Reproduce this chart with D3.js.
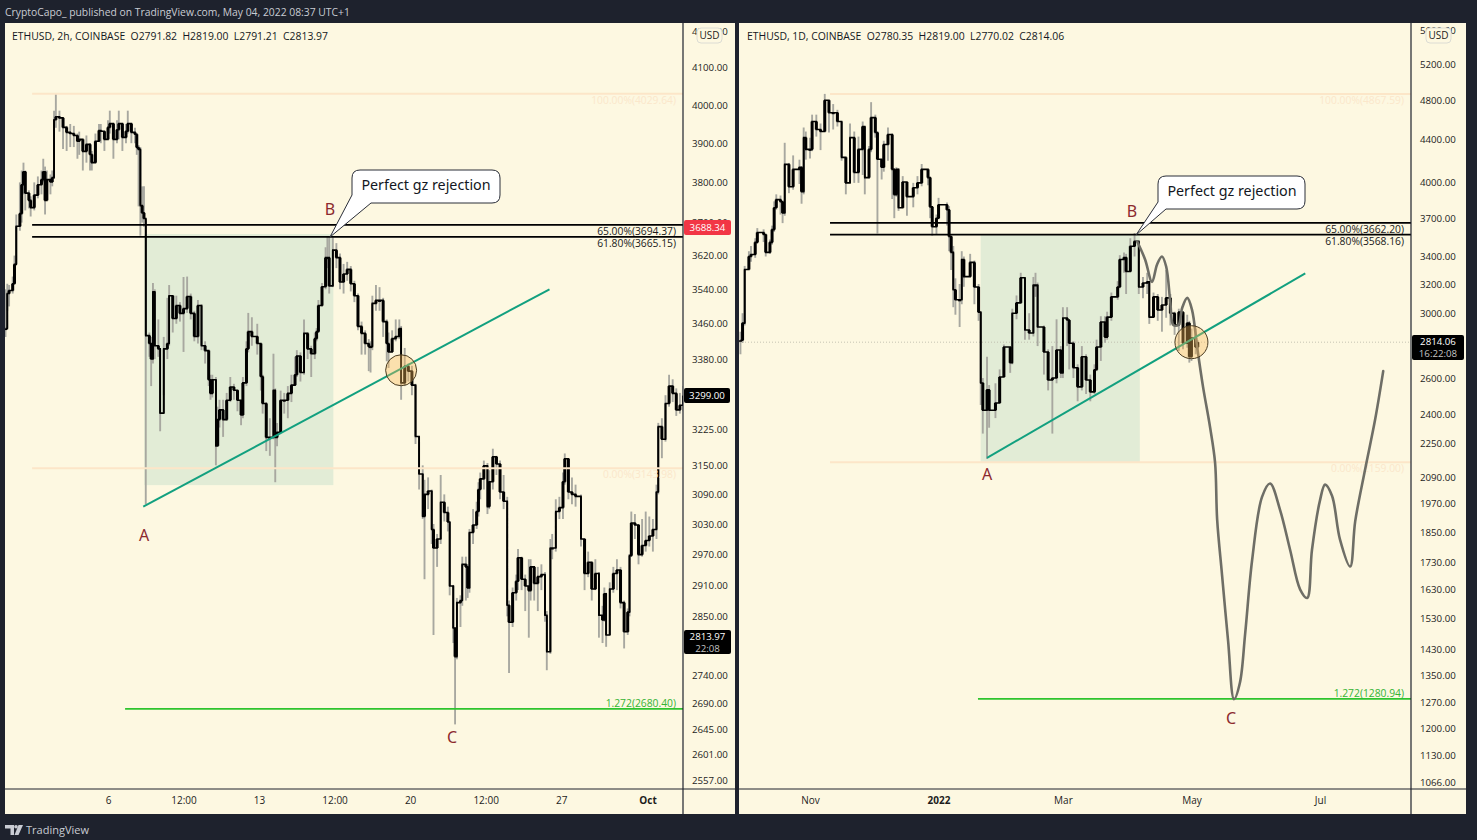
<!DOCTYPE html>
<html><head><meta charset="utf-8">
<script src="https://cdn.jsdelivr.net/npm/d3@7"></script>
<style>
html,body{margin:0;padding:0;background:#1e222d;overflow:hidden}
svg{display:block}
text{font-family:"Open Sans","Noto Sans",sans-serif}
</style></head><body>
<svg id="c" width="1477" height="840"></svg>
<script>
// ---------- LEFT CHART: ETHUSD 2h (bar = number of 2h bars since 1 Sep 2021) ----------
const leftBars = [
3,4,5,7,8,9,11,12,13,14,
16,17,19,21,23,24,25,26,28,29,
30,31,33,35,37,39,41,43,44,46,
48,50,51,53,55,56,58,60,61,63,
65,66,68,70,71,73,75,76,77,78,
79,80,81,83,84,85,86,88,89,91,
93,94,96,98,100,102,104,106,108,110,
112,114,116,117,118,120,121,122,124,126,
128,130,132,134,135,137,138,140,143,145,
146,148,150,152,153,154,156,158,160,162,
164,165,167,169,171,173,175,176,177,179,
181,182,183,185,187,189,191,193,195,197,
199,201,203,205,206,207,209,211,213,215,
216,218,220,222,223,225,227,229,231,233,
235,236,238,240,241,243,245,247,249,250,
252,253,254,256,257,259,260,261,263,265,
266,267,269,271,272,274,276,278,280,282,
283,285,287,288,290,292,294,295,297,299,
301,303,304,306,307,309,311,313,314,316,
318,320,323,325,327,329,331,333,335,336,
337,339,341,343,345,347,349,350,351,353,
355,357,359,361,363,365,366,368,370,372,
374,376,378,380];
const leftClose = [
3449,3530,3537,3553,3599,3691,3722,3794,3827,3773,
3755,3737,3768,3794,3807,3827,3755,3807,3801,3812,
3961,3969,3966,3941,3928,3925,3920,3905,3910,3879,
3897,3871,3850,3905,3933,3931,3910,3941,3951,3910,
3935,3951,3915,3931,3951,3928,3923,3889,3884,3742,
3724,3710,3433,3415,3380,3534,3410,3403,3261,3403,
3415,3525,3472,3502,3484,3495,3523,3484,3431,3502,
3410,3399,3334,3304,3334,3191,3247,3268,3247,3289,
3318,3311,3289,3257,3327,3403,3442,3431,3415,3341,
3282,3209,3209,3311,3209,3220,3289,3289,3304,3322,
3345,3387,3350,3438,3403,3392,3426,3442,3502,3546,
3615,3615,3548,3633,3615,3557,3576,3587,3553,3525,
3454,3438,3415,3408,3408,3507,3514,3514,3465,3415,
3396,3426,3431,3449,3327,3364,3353,3322,3211,3132,
3045,3090,3097,3019,2982,3000,3074,3053,3034,2908,
2828,2775,2876,2880,2950,2945,2904,3013,3028,3055,
3100,3122,3149,3065,3116,3168,3153,3095,3076,2871,
2839,2895,2917,2963,2921,2908,2899,2945,2913,2926,
2930,2852,2784,2982,2982,3055,3063,3116,3164,3095,
3090,3086,3000,2932,2954,2902,2932,2852,2843,2893,
2815,2902,2932,2939,2876,2821,2858,2967,3032,3028,
2969,2987,2997,3006,3019,3095,3232,3205,3282,3320,
3304,3268,3278,3299];
const leftHigh = [
3540,3553,3550,3570,3620,3720,3800,3830,3850,3830,
3780,3765,3800,3815,3830,3860,3840,3830,3820,3830,
3985,4029,3985,3960,3945,3950,3945,3925,3930,3905,
3920,3900,3880,3925,3950,3950,3930,3960,3985,3930,
3960,3985,3945,3950,3985,3950,3940,3925,3895,3890,
3790,3790,3705,3440,3430,3555,3540,3470,3405,3430,
3520,3550,3525,3525,3510,3569,3570,3530,3490,3515,
3505,3420,3400,3345,3345,3340,3275,3290,3290,3305,
3340,3325,3310,3290,3340,3420,3485,3475,3460,3415,
3345,3285,3250,3392,3315,3240,3310,3305,3320,3345,
3385,3400,3395,3470,3440,3410,3440,3450,3515,3555,
3640,3665,3665,3665,3650,3625,3600,3605,3595,3560,
3530,3465,3445,3425,3420,3525,3550,3545,3520,3470,
3440,3445,3470,3470,3455,3405,3370,3365,3325,3200,
3150,3120,3125,3100,3030,3010,3130,3090,3065,3035,
2910,2830,2885,2890,2965,2965,2950,3020,3060,3075,
3115,3135,3160,3155,3140,3185,3170,3160,3130,3085,
2880,2905,2930,2980,2965,2930,2960,2960,2945,2945,
2950,2935,2860,3000,3010,3080,3085,3135,3175,3160,
3125,3110,3090,3000,2975,2955,2960,2935,2870,2905,
2895,2915,2945,2960,2945,2880,2865,2970,3055,3050,
3030,3040,3055,3045,3040,3110,3240,3250,3300,3345,
3335,3315,3305,3320];
const leftLow = [
3430,3490,3500,3530,3560,3600,3680,3700,3770,3730,
3735,3715,3730,3760,3770,3800,3720,3760,3770,3790,
3810,3940,3930,3885,3880,3890,3890,3860,3870,3830,
3850,3830,3830,3880,3905,3900,3880,3910,3925,3860,
3900,3910,3880,3900,3925,3900,3900,3870,3740,3668,
3700,3690,3070,3385,3320,3370,3380,3385,3222,3300,
3380,3410,3440,3460,3465,3396,3485,3470,3420,3415,
3400,3370,3320,3290,3295,3150,3195,3230,3210,3245,
3285,3290,3265,3235,3250,3320,3395,3410,3390,3310,
3260,3180,3170,3205,3115,3190,3225,3260,3250,3285,
3320,3340,3330,3345,3380,3340,3380,3420,3440,3500,
3540,3590,3530,3545,3590,3540,3530,3560,3535,3510,
3445,3390,3390,3353,3350,3400,3490,3490,3430,3375,
3360,3400,3420,3425,3290,3320,3330,3300,3195,3100,
3040,2921,3060,2990,2815,2945,2990,3035,3015,2890,
2800,2653,2770,2830,2870,2880,2885,2895,2990,3020,
3045,3080,3100,3050,3060,3100,3130,3080,3060,2850,
2745,2830,2880,2900,2900,2860,2810,2880,2880,2860,
2900,2840,2750,2780,2960,2975,3040,3040,3110,3080,
3070,3065,2985,2900,2925,2880,2900,2810,2800,2840,
2793,2815,2895,2900,2865,2790,2815,2850,2965,3000,
2950,2965,2975,2985,2975,3000,3090,3165,3200,3275,
3285,3255,3260,3265];
const leftTicks = [4200,4100,4000,3900,3800,3700,3620,3540,3460,3380,3225,3150,3090,3030,2970,2910,2850,2740,2690,2645,2601,2557];

// ---------- RIGHT CHART: ETHUSD 1D (day = days since 1 Nov 2021) ----------
const rightDays = [
-33,-32,-31,-29,-28,-26,-25,-22,-21,-19,
-18,-17,-16,-14,-13,-12,-10,-8,-5,-4,
-3,-2,0,1,3,5,7,9,11,13,
15,17,19,21,23,25,26,28,29,31,
32,34,35,37,39,40,41,42,44,46,
49,51,53,56,57,58,60,61,65,66,
67,68,69,71,72,73,76,78,80,81,
82,84,85,88,90,92,95,96,98,100,
102,104,106,107,108,111,113,115,117,119,
120,122,123,125,127,129,131,133,135,136,
138,140,141,143,146,147,149,150,152,154,
156,158,160,161,163,165,167,169,171,173,
175,177,179,180,181,183,184];
const rightClose = [
2826,2935,3304,3400,3415,3508,3585,3569,3431,3508,
3608,3786,3855,3837,3743,4167,3966,4121,4140,3923,
4420,4307,4307,4580,4500,4480,4800,4670,4670,4580,
4232,4000,4420,4093,4307,4530,4047,4307,4620,4470,
4214,4140,4353,4450,4121,3897,4121,3786,4008,3880,
3957,4000,4121,4047,3794,3631,3700,3811,3769,3554,
3431,3159,3090,3090,3378,3252,3356,3179,3007,2572,
2422,2533,2422,2461,2606,2784,2689,3000,3069,3244,
2891,2872,3193,3193,2910,2754,2589,2600,2766,2630,
2968,2955,2808,2660,2550,2725,2589,2522,2648,2784,
2942,2846,2974,3110,3179,3378,3393,3289,3478,3516,
3179,3207,3215,2974,3110,3021,3055,3103,3000,2923,
3007,2808,2935,2725,2840,2784,2814];
const rightHigh = [
2880,3000,3330,3440,3480,3540,3620,3610,3570,3530,
3640,3840,3900,3890,3850,4370,4180,4250,4210,4150,
4520,4480,4420,4650,4650,4560,4868,4800,4760,4700,
4580,4220,4560,4480,4430,4580,4530,4340,4780,4650,
4480,4200,4390,4520,4460,4130,4140,4130,4060,3990,
4000,4060,4170,4100,4050,3800,3730,3870,3830,3800,
3560,3480,3240,3200,3440,3400,3420,3370,3200,3010,
2600,2725,2560,2570,2650,2800,2780,3030,3120,3280,
3230,3000,3250,3280,3210,2920,2770,2790,2960,2790,
3040,3040,2960,2820,2680,2790,2740,2620,2680,2830,
2980,2980,3010,3140,3220,3410,3430,3420,3540,3580,
3520,3250,3280,3220,3140,3130,3110,3300,3130,3010,
3030,2980,2990,2950,2900,2900,2825];
const rightLow = [
2740,2810,2920,3310,3360,3390,3500,3510,3400,3420,
3490,3590,3770,3730,3660,3720,3910,3940,3990,3820,
3900,4210,4220,4290,4430,4300,4600,4470,4500,4530,
4200,3900,4000,4000,4000,4070,3900,4040,4280,4420,
3577,4030,4100,4200,3860,3700,3880,3760,3830,3720,
3790,3900,3970,3980,3700,3560,3570,3690,3640,3440,
3300,3040,2990,2910,3060,3180,3250,3060,2950,2450,
2300,2175,2330,2380,2500,2620,2630,2680,2960,3090,
2830,2830,2850,3110,2790,2620,2530,2300,2570,2600,
2600,2790,2650,2600,2470,2530,2510,2470,2510,2640,
2700,2810,2830,2950,3090,3170,3280,3130,3290,3400,
3130,3100,3130,2930,2970,2950,2880,2970,2920,2860,
2760,2770,2780,2690,2700,2740,2770];
const rightTicks = [5600,5200,4800,4400,4000,3700,3400,3200,3000,2600,2400,2250,2090,1970,1850,1730,1630,1530,1430,1350,1270,1200,1130,1066];

// hand-drawn forecast on the right chart
const forecastDays = [155.2,159,162.3,164.7,167,169,171,172.4,174.8,176.6,179,181.3,183.7,186.5,189.8,192.2,193.2,195.5,198.4,201.2,204,206.5,209.8,214.5,218.3,223,227.8,232.6,235.9,238.2,242,244.4,247.7,251.5,256.3,258.7,263.4,268.2,272];
const forecastPrice = [3516,3378,3215,3341,3400,3326,3069,2923,2923,3035,3103,3021,2784,2550,2335,2158,1902,1685,1455,1280,1327,1480,1740,2000,2060,1945,1780,1630,1600,1780,1985,2055,2005,1820,1715,1895,2125,2375,2640];

// fib levels, text, annotations
const leftFib = [
 {price:4029.64,label:"100.00%(4029.64)",kind:"pale"},
 {price:3694.37,label:"65.00%(3694.37)",kind:"black"},
 {price:3665.15,label:"61.80%(3665.15)",kind:"black"},
 {price:3143.98,label:"0.00%(3143.98)",kind:"pale"},
 {price:2680.40,label:"1.272(2680.40)",kind:"green"}];
const rightFib = [
 {price:4867.59,label:"100.00%(4867.59)",kind:"pale"},
 {price:3662.20,label:"65.00%(3662.20)",kind:"black"},
 {price:3568.16,label:"61.80%(3568.16)",kind:"black"},
 {price:2159.00,label:"0.00%(2159.00)",kind:"pale"},
 {price:1280.94,label:"1.272(1280.94)",kind:"green"}];

const svg = d3.select("#c");
const DARK="#1e222d", PANE="#fdf8e1";
const FIB={pale:"#fce6c8",black:"#000",green:"#2ec42e"};
const FIBTXT={pale:"#fbe7cb",black:"#1a1a1a",green:"#35b335"};

const W1={l:5,r:683,e:735}, W2={l:739,r:1411,e:1466};
const TOP=23, BOT=789, END=814;

function pane(w,id){
  svg.append("rect").attr("x",w.l).attr("y",TOP).attr("width",w.e-w.l).attr("height",END-TOP).attr("fill",PANE);
  svg.append("clipPath").attr("id",id).append("rect").attr("x",w.l).attr("y",TOP).attr("width",w.r-w.l).attr("height",BOT-TOP);
}
function candles(g,xs,y,close,hi,lo){
  const pts=xs.map((x,i)=>({x,c:close[i],o:i?close[i-1]:close[i],h:hi[i],l:lo[i]}));
  g.append("g").attr("stroke","#a8a8a0").attr("stroke-width",1.9).selectAll("line").data(pts).join("line")
    .attr("x1",d=>d.x).attr("x2",d=>d.x).attr("y1",d=>y(d.h)).attr("y2",d=>y(d.l));
  g.append("path").attr("fill","none").attr("stroke","#000").attr("stroke-width",1.6)
    .attr("d",d3.line().x(d=>d.x).y(d=>y(d.c)).curve(d3.curveStepAfter)(pts));
  g.append("g").attr("fill","#000").selectAll("rect").data(pts).join("rect")
    .attr("x",d=>{const w=Math.abs(y(d.o)-y(d.c))>35?1.8:3;return d.x-w/2;})
    .attr("width",d=>Math.abs(y(d.o)-y(d.c))>35?1.8:3)
    .attr("y",d=>Math.min(y(d.o),y(d.c))).attr("height",d=>Math.max(1.5,Math.abs(y(d.o)-y(d.c))));
}
function yAxis(w,y,ticks){
  const g=svg.append("g").attr("transform",`translate(${w.r},0)`)
    .call(d3.axisRight(y).tickValues(ticks).tickSize(0).tickPadding(9).tickFormat(d3.format(".2f")));
  g.select(".domain").remove();
  g.selectAll("text").attr("fill","#1c1c1c").attr("font-size",9.7).style("font-family","'Open Sans',sans-serif");
}
function xAxis(w,x,vals,fmt,boldFn){
  const g=svg.append("g").attr("transform",`translate(0,${BOT})`)
    .call(d3.axisBottom(x).tickValues(vals.map(v=>new Date(v))).tickSize(0).tickPadding(8).tickFormat(fmt));
  g.select(".domain").remove();
  g.selectAll("text").attr("fill","#1c1c1c").attr("font-size",10)
    .attr("font-weight",d=>boldFn(d)?700:400).style("font-family","'Open Sans',sans-serif");
  svg.append("line").attr("x1",w.l).attr("x2",w.e).attr("y1",BOT).attr("y2",BOT).attr("stroke",DARK).attr("stroke-width",1);
  svg.append("line").attr("x1",w.r).attr("x2",w.r).attr("y1",TOP).attr("y2",END).attr("stroke",DARK).attr("stroke-width",1.2);
}
function fibs(g,defs,y,x0,xGreen,xr,labelX,dy){
  defs.forEach((f,i)=>{
    const py=y(f.price);
    g.append("line").attr("x1",f.kind==="green"?xGreen:x0).attr("x2",xr).attr("y1",py).attr("y2",py)
      .attr("stroke",FIB[f.kind]).attr("stroke-width",f.kind==="black"?1.7:(f.kind==="green"?1.7:2));
    g.append("text").attr("x",labelX).attr("y",py+dy[i]).attr("text-anchor","end")
      .attr("font-size",10.3).attr("fill",FIBTXT[f.kind]).text(f.label);
  });
}
function callout(x0,y0,x1,y1,tipx,tipy,bx1,by1,bx2,by2,cx){
  const r=8;
  const d=`M${x0+r},${y0}H${x1-r}Q${x1},${y0} ${x1},${y0+r}V${y1-r}Q${x1},${y1} ${x1-r},${y1}H${bx2}L${tipx},${tipy}L${bx1},${by1}V${y0+r}Q${x0},${y0} ${x0+r},${y0}Z`;
  svg.append("path").attr("d",d).attr("fill","#fff").attr("stroke","#2a2e39").attr("stroke-width",1);
  svg.append("text").attr("x",cx).attr("y",(y0+y1)/2+3.2).attr("text-anchor","middle").attr("font-size",14.3).attr("fill","#131722")
    .style("font-family","'Noto Sans',sans-serif").text("Perfect gz rejection");
}
function wave(t,x,y){
  svg.append("text").attr("x",x).attr("y",y).attr("text-anchor","middle").attr("font-size",16).attr("fill","#8c2a2f")
    .style("font-family","'Noto Sans',sans-serif").text(t);
}
function badge(x,y,w,h,bg,lines,fg){
  svg.append("rect").attr("x",x).attr("y",y).attr("width",w).attr("height",h).attr("rx",2).attr("fill",bg);
  lines.forEach((t,i)=>svg.append("text").attr("x",x+w/2).attr("y",y+(i+0.5)*(h/lines.length)+3.6).attr("text-anchor","middle")
    .attr("font-size",9.7).attr("fill",i?"#c4c4c4":fg).text(t));
}
function usd(x){
  svg.append("rect").attr("x",x).attr("y",28).attr("width",25).attr("height",15).attr("rx",4).attr("fill",PANE).attr("stroke","#dcdcd4");
  svg.append("text").attr("x",x+12.5).attr("y",39.3).attr("text-anchor","middle").attr("font-size",10).attr("fill","#1c1c1c").text("USD");
}
function legend(x,t){
  svg.append("text").attr("x",x).attr("y",39.5).attr("font-size",10.4).attr("fill","#131722").attr("xml:space","preserve").style("white-space","pre").text(t);
}

// ---------- left ----------
pane(W1,"clipL");
const xL=d3.scaleUtc().domain([Date.UTC(2021,8,6),Date.UTC(2021,9,1)]).range([108,647.5]);
const yL=d3.scaleLog().domain([2557,4000]).range([780,105]);
const barDate=b=>Date.UTC(2021,8,1)+b*7200000;
const gL=svg.append("g").attr("clip-path","url(#clipL)");
gL.append("rect").attr("x",xL(barDate(80.2))).attr("width",xL(barDate(185.3))-xL(barDate(80.2)))
  .attr("y",yL(3672)).attr("height",yL(3109)-yL(3672)).attr("fill","#e2ecd6");
candles(gL,leftBars.map(b=>xL(barDate(b))),yL,leftClose,leftHigh,leftLow);
fibs(gL,leftFib,yL,xL(barDate(17.8)),xL(barDate(69.5)),W1.r,676,[10,10,10,10,-2]);
gL.append("line").attr("x1",xL(barDate(79.6))).attr("y1",yL(3065)).attr("x2",xL(barDate(305.5))).attr("y2",yL(3540))
  .attr("stroke","#12a07f").attr("stroke-width",2);
gL.append("circle").attr("cx",xL(barDate(223))).attr("cy",yL(3355)).attr("r",15.5).attr("fill","#f7b75a").attr("fill-opacity",.38).attr("stroke","#4a3c22").attr("stroke-width",1);
xAxis(W1,xL,[Date.UTC(2021,8,6),Date.UTC(2021,8,9,12),Date.UTC(2021,8,13),Date.UTC(2021,8,16,12),Date.UTC(2021,8,20),Date.UTC(2021,8,23,12),Date.UTC(2021,8,27),Date.UTC(2021,9,1)],
  d=>d.getUTCMonth()===9?"Oct":(d.getUTCHours()===12?"12:00":String(d.getUTCDate())),d=>d.getUTCMonth()===9);
yAxis(W1,yL,leftTicks);
callout(352,170,500,203,330,237,352,195,371,203,426);
wave("A",144,541);wave("B",330,215);wave("C",452,743);
badge(684,220,47,15,"#f23645",["3688.34"],"#fff");
badge(684,388,46,15,"#000",["3299.00"],"#fff");
badge(684,630,47,24,"#000",["2813.97","22:08"],"#fff");
usd(697);
legend(12,"ETHUSD, 2h, COINBASE  O2791.82  H2819.00  L2791.21  C2813.97");

// ---------- right ----------
pane(W2,"clipR");
const xR=d3.scaleUtc().domain([Date.UTC(2021,10,1),Date.UTC(2022,6,1)]).range([810,1320]);
const yR=d3.scaleLog().domain([1066,5200]).range([782,64]);
const dayDate=d=>Date.UTC(2021,10,1)+d*86400000;
const gR=svg.append("g").attr("clip-path","url(#clipR)");
gR.append("rect").attr("x",xR(dayDate(81))).attr("width",xR(dayDate(156.5))-xR(dayDate(81)))
  .attr("y",yR(3568)).attr("height",yR(2159)-yR(3568)).attr("fill","#e2ecd6");
gR.append("line").attr("x1",W2.l).attr("x2",W2.r).attr("y1",yR(2814.06)).attr("y2",yR(2814.06)).attr("stroke","#b9b7a8").attr("stroke-width",.8).attr("stroke-dasharray","1 2");
candles(gR,rightDays.map(d=>xR(dayDate(d))),yR,rightClose,rightHigh,rightLow);
fibs(gR,rightFib,yR,xR(dayDate(9.5)),xR(dayDate(79.7)),W2.r,1404,[10,10,10,10,-2]);
gR.append("path").attr("fill","none").attr("stroke","#6e6e66").attr("stroke-width",2.6).attr("stroke-linecap","round")
  .attr("d",d3.line().x((d,i)=>xR(dayDate(d))).y((d,i)=>yR(forecastPrice[i])).curve(d3.curveCatmullRom)(forecastDays));
gR.append("line").attr("x1",xR(dayDate(84))).attr("y1",yR(2180)).attr("x2",xR(dayDate(235))).attr("y2",yR(3275))
  .attr("stroke","#12a07f").attr("stroke-width",2);
gR.append("circle").attr("cx",xR(dayDate(181))).attr("cy",yR(2814)).attr("r",16.5).attr("fill","#f7b75a").attr("fill-opacity",.38).attr("stroke","#4a3c22").attr("stroke-width",1);
xAxis(W2,xR,[Date.UTC(2021,10,1),Date.UTC(2022,0,1),Date.UTC(2022,2,1),Date.UTC(2022,4,1),Date.UTC(2022,6,1)],
  d=>d.getUTCMonth()===0?"2022":["","","Mar","","May","","Jul"][d.getUTCMonth()]||"Nov",d=>d.getUTCMonth()===0);
yAxis(W2,yR,rightTicks);
callout(1158,176,1305,209,1136,235,1158,202,1166,209,1232);
wave("A",987,480);wave("B",1132,217);wave("C",1231,724);
badge(1412,335,52,25,"#000",["2814.06","16:22:08"],"#fff");
usd(1426);
legend(747,"ETHUSD, 1D, COINBASE  O2780.35  H2819.00  L2770.02  C2814.06");

// ---------- page chrome ----------
svg.append("text").attr("x",5).attr("y",16).attr("font-size",10.35).attr("fill","#c9ccd3").text("CryptoCapo_ published on TradingView.com, May 04, 2022 08:37 UTC+1");
const logo=svg.append("g").attr("fill","#c9ccd3");
logo.append("path").attr("d","M5,825H14V835H10.5V828.5H5Z");
logo.append("circle").attr("cx",16).attr("cy",826.8).attr("r",1.8);
logo.append("path").attr("d","M18.5,825H23L18.5,835H14.5Z");
svg.append("text").attr("x",26).attr("y",834).attr("font-size",11).attr("fill","#c9ccd3").text("TradingView");
</script>
</body></html>
